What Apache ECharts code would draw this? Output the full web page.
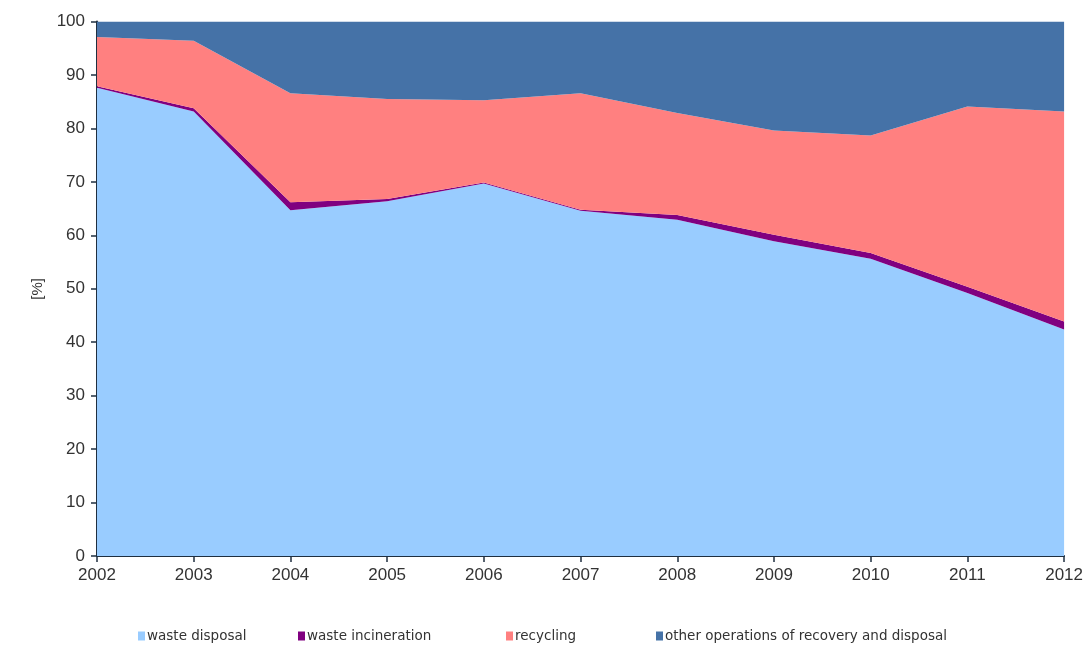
<!DOCTYPE html>
<html>
<head>
<meta charset="utf-8">
<script src="https://cdn.jsdelivr.net/npm/echarts@6/dist/echarts.min.js"></script>
<style>
  html, body { margin: 0; padding: 0; background: #ffffff; }
  #chart { width: 1086px; height: 648px; }
</style>
</head>
<body>
<div id="chart"></div>
<script>
var years = ['2002','2003','2004','2005','2006','2007','2008','2009','2010','2011','2012'];
var wasteDisposal     = [87.6, 83.2, 64.7, 66.4, 69.7, 64.6, 62.9, 58.9, 55.6, 49.2, 42.4];
var wasteIncineration = [0.3, 0.6, 1.5, 0.4, 0.2, 0.2, 0.9, 1.2, 1.1, 1.2, 1.5];
var recycling         = [9.2, 12.6, 20.4, 18.7, 15.4, 21.8, 19.1, 19.5, 22.0, 33.7, 39.3];
var otherOps          = [2.9, 3.6, 13.4, 14.5, 14.7, 13.4, 17.1, 20.4, 21.3, 15.9, 16.8];
var yTicks = [0, 10, 20, 30, 40, 50, 60, 70, 80, 90, 100];

var names = ['waste disposal', 'waste incineration', 'recycling', 'other operations of recovery and disposal'];
var colors = ['#99CCFF', '#800080', '#FF8080', '#4572A7'];
var dataSets = [wasteDisposal, wasteIncineration, recycling, otherOps];

var chart = echarts.init(document.getElementById('chart'));
var font = 'Liberation Sans, Arial, sans-serif';
var legendFont = 'DejaVu Sans, Verdana, sans-serif';
var legendLefts = [133, 293, 501, 651];

var option = {
  animation: false,
  backgroundColor: '#ffffff',
  grid: { left: 97, right: 20, top: 21.6, bottom: 92, containLabel: false },
  legend: names.map(function (n, i) {
    return {
      data: [n],
      left: legendLefts[i],
      top: 624,
      itemWidth: 7,
      itemHeight: 9,
      icon: 'rect',
      itemGap: 0,
      textStyle: { fontFamily: legendFont, fontSize: 13.5, color: '#333', padding: [0, 0, 0, -3] }
    };
  }),
  xAxis: {
    type: 'category',
    data: years,
    boundaryGap: false,
    axisLine: { lineStyle: { color: '#1f2f40', width: 2 } },
    axisTick: { show: true, inside: false, length: 6, lineStyle: { color: '#1f2f40', width: 1.5 } },
    axisLabel: { fontFamily: font, fontSize: 17, color: '#333', margin: 11 },
    splitLine: { show: false }
  },
  yAxis: {
    type: 'value',
    min: 0,
    max: 100,
    interval: 10,
    name: '[%]',
    nameLocation: 'middle',
    nameRotate: 90,
    nameGap: 52,
    nameTextStyle: { fontFamily: font, fontSize: 15, color: '#333' },
    axisLine: { show: true, lineStyle: { color: '#1f2f40', width: 2 } },
    axisTick: { show: true, inside: false, length: 6, lineStyle: { color: '#1f2f40', width: 1.5 } },
    axisLabel: { fontFamily: font, fontSize: 17, color: '#333', margin: 12,
      formatter: function (v) { return yTicks.indexOf(v) >= 0 ? String(v) : ''; } },
    splitLine: { show: false }
  },
  series: names.map(function (n, i) {
    return {
      name: n,
      type: 'line',
      stack: 'total',
      data: dataSets[i],
      symbol: 'none',
      showSymbol: false,
      itemStyle: { color: colors[i] },
      lineStyle: { width: 0, color: colors[i] },
      areaStyle: { color: colors[i], opacity: 1 },
      z: 2
    };
  })
};
chart.setOption(option);
</script>
</body>
</html>
